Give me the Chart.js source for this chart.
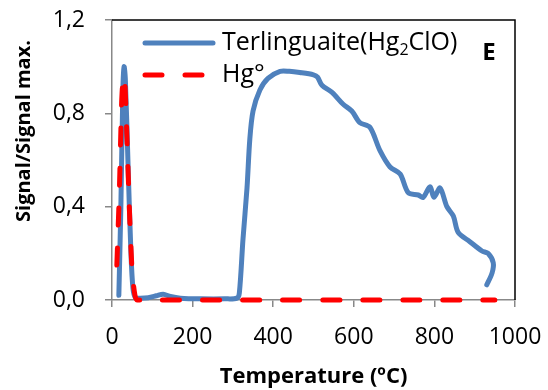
<!DOCTYPE html>
<html>
<head>
<meta charset="utf-8">
<script src="https://cdn.jsdelivr.net/npm/chart.js@4"></script>
<style>
  html, body { margin: 0; padding: 0; background: #fff; }
  #wrap { width: 548px; height: 390px; }
</style>
</head>
<body>
<div id="wrap"><canvas id="grafica" width="548" height="390"></canvas></div>
<script>
// Terlinguaite (Hg2ClO)
const tempTerl = [17, 22, 27, 30, 33, 40, 47, 52, 58, 70, 90, 110, 127, 145, 170, 220, 280, 310,
  316, 325, 335, 342, 350, 367, 387, 417, 440, 466, 500, 510, 521, 546, 573, 595, 615, 640, 665,
  690, 715, 735, 760, 772, 789, 799, 814, 831, 847, 859, 888, 918, 933, 946, 943, 930];
const sigTerl = [0.02, 0.4, 0.9, 1.0, 0.95, 0.57, 0.2, 0.05, 0.01, 0.008, 0.01, 0.018, 0.025, 0.015,
  0.008, 0.005, 0.005, 0.008, 0.03, 0.26, 0.48, 0.69, 0.81, 0.9, 0.95, 0.98, 0.98, 0.975, 0.965,
  0.955, 0.92, 0.89, 0.84, 0.81, 0.76, 0.74, 0.64, 0.57, 0.54, 0.46, 0.45, 0.44, 0.485, 0.44, 0.48,
  0.40, 0.36, 0.29, 0.25, 0.21, 0.20, 0.16, 0.115, 0.065];

// Hg°
const tempHg = [12, 18, 24, 28, 32, 38, 44, 50, 56, 62, 950];
const sigHg = [0.15, 0.45, 0.85, 0.96, 0.93, 0.65, 0.35, 0.12, 0.03, 0.0, 0.0];

const etiquetas = ["Terlinguaite(Hg₂ClO)", "Hg°"];
const colores = ["#4f81bd", "#ff0000"];
const ticksX = [0, 200, 400, 600, 800, 1000];
const ticksY = [0, 0.4, 0.8, 1.2];
const tituloX = "Temperature (ºC)";
const tituloY = "Signal/Signal max.";
const letraPanel = "E";

const FUENTE = "'Open Sans', sans-serif";

function puntos(xs, ys) {
  return xs.map((x, i) => ({ x: x, y: ys[i] }));
}

// marco superior/derecho, leyenda, título del eje Y y letra del panel
const extras = {
  id: "extras",
  afterDraw(chart) {
    const ctx = chart.ctx;
    const a = chart.chartArea;
    ctx.save();
    ctx.strokeStyle = "#000";
    ctx.lineWidth = 1.5;
    ctx.beginPath();
    ctx.moveTo(a.left, a.top);
    ctx.lineTo(a.right, a.top);
    ctx.lineTo(a.right, a.bottom);
    ctx.stroke();

    // leyenda
    const filas = [43, 75];
    etiquetas.forEach((txt, i) => {
      const y = filas[i];
      ctx.strokeStyle = colores[i];
      ctx.lineWidth = 5;
      ctx.lineCap = "round";
      ctx.setLineDash(i === 1 ? [17, 23] : []);
      ctx.beginPath();
      ctx.moveTo(145, y);
      ctx.lineTo(i === 1 ? 203 : 213, y);
      ctx.stroke();
      ctx.setLineDash([]);

      ctx.fillStyle = "#000";
      ctx.textBaseline = "middle";
      ctx.textAlign = "left";
      let x = 222;
      const partes = txt.split("₂");
      partes.forEach((p, k) => {
        ctx.font = "25px " + FUENTE;
        ctx.fillText(p, x, y);
        x += ctx.measureText(p).width;
        if (k < partes.length - 1) {
          ctx.font = "16px " + FUENTE;
          ctx.fillText("2", x, y + 7);
          x += ctx.measureText("2").width;
        }
      });
    });

    ctx.font = "bold 24px " + FUENTE;
    ctx.textAlign = "center";
    ctx.textBaseline = "middle";
    ctx.fillText(letraPanel, 489, 53);

    // título Y
    ctx.translate(24, 131);
    ctx.rotate(-Math.PI / 2);
    ctx.font = "bold 20px " + FUENTE;
    ctx.fillText(tituloY, 0, 0);
    ctx.restore();
  }
};

new Chart(document.getElementById("grafica"), {
  type: "scatter",
  data: {
    datasets: [
      {
        label: etiquetas[0],
        data: puntos(tempTerl, sigTerl),
        showLine: true,
        borderColor: colores[0],
        borderWidth: 5,
        pointRadius: 0,
        tension: 0.3,
        borderCapStyle: "round",
        borderJoinStyle: "round",
        clip: false,
        order: 2
      },
      {
        label: etiquetas[1],
        data: puntos(tempHg, sigHg),
        showLine: true,
        borderColor: colores[1],
        borderWidth: 5,
        borderDash: [17, 23],
        borderCapStyle: "round",
        pointRadius: 0,
        tension: 0.2,
        clip: false,
        order: 1
      }
    ]
  },
  options: {
    responsive: false,
    animation: false,
    layout: { padding: { left: 0, right: 33, top: 20, bottom: 0 } },
    plugins: {
      legend: { display: false },
      tooltip: { enabled: false }
    },
    scales: {
      x: {
        type: "linear",
        min: 0,
        max: 1000,
        afterBuildTicks(axis) { axis.ticks = ticksX.map(v => ({ value: v })); },
        afterFit(axis) {
          axis.height = 90;
          axis.paddingLeft = 0;
          axis.paddingRight = 0;
        },
        border: { color: "#888", width: 1.5 },
        grid: { drawOnChartArea: false, drawTicks: true, tickLength: 7, color: "#888", lineWidth: 1.5 },
        ticks: {
          color: "#000",
          font: { family: FUENTE, size: 23 },
          padding: 17,
          callback: v => String(v)
        },
        title: {
          display: true,
          text: tituloX,
          color: "#000",
          font: { family: FUENTE, size: 22, weight: "bold" },
          padding: { top: 2, bottom: 0 }
        }
      },
      y: {
        type: "linear",
        min: 0,
        max: 1.2,
        afterBuildTicks(axis) { axis.ticks = ticksY.map(v => ({ value: v })); },
        afterFit(axis) {
          axis.width = 112;
          axis.paddingTop = 0;
          axis.paddingBottom = 0;
        },
        border: { color: "#888", width: 1.5 },
        grid: { drawOnChartArea: false, drawTicks: true, tickLength: 7, color: "#888", lineWidth: 1.5 },
        ticks: {
          color: "#000",
          font: { family: FUENTE, size: 23 },
          padding: 20,
          callback: v => v.toFixed(1).replace(".", ",")
        }
      }
    }
  },
  plugins: [extras]
});
</script>
</body>
</html>
